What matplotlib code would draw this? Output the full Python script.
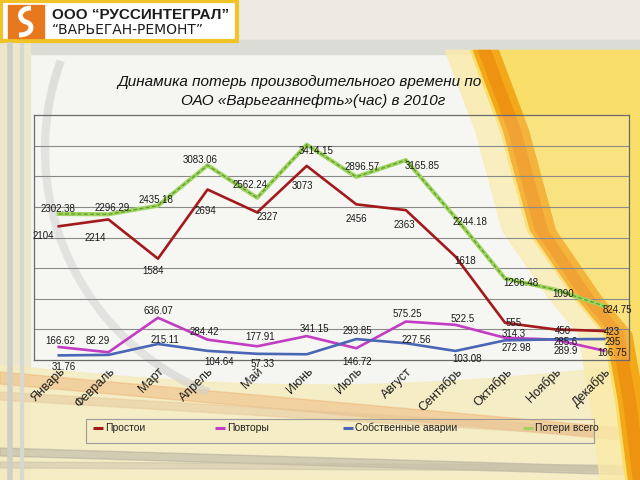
import matplotlib
matplotlib.use('Agg')
import matplotlib.pyplot as plt
import numpy as np
from matplotlib.patches import Rectangle, Arc
from matplotlib.path import Path
from matplotlib.patches import PathPatch

# ---------------- data ----------------
months = ['Январь', 'Февраль', 'Март', 'Апрель', 'Май', 'Июнь', 'Июль',
          'Август', 'Сентябрь', 'Октябрь', 'Ноябрь', 'Декабрь']
prostoi = [2104, 2214, 1584, 2694, 2327, 3073, 2456, 2363, 1618, 555, 450, 423]
povtory = [166.62, 82.29, 636.07, 284.42, 177.91, 341.15, 146.72, 575.25,
           522.5, 314.3, 285.6, 106.75]
avarii = [31.76, 40, 215.11, 104.64, 57.33, 50, 293.85, 227.56, 103.08,
          272.98, 289.9, 295]
avarii_labels = ['31.76', None, '215.11', '104.64', '57.33', None, '293.85',
                 '227.56', '103.08', '272.98', '289.9', '295']
poteri = [2302.38, 2296.29, 2435.18, 3083.06, 2562.24, 3414.15, 2896.57,
          3165.85, 2244.18, 1266.48, 1090, 824.75]
series_names = ['Простои', 'Повторы', 'Собственные аварии', 'Потери всего']

title1 = 'Динамика потерь производительного времени по'
title2 = 'ОАО «Варьеганнефть»(час) в 2010г'
logo1 = 'ООО “РУССИНТЕГРАЛ”'
logo2 = '“ВАРЬЕГАН-РЕМОНТ”'

# label offsets in pixels (styling)
off_red = [(-15, -10), (-13, -19), (-5, -12), (-2, -21), (10, -5), (-4, -20),
           (0, -15), (-2, -15), (10, -4), (9, 0), (8, -2), (8, -1)]
off_green = [(-1, 5), (4, 6), (-2, 6), (-7, 5), (-7, 13), (9, -6), (6, 10),
             (16, -6), (15, -4), (16, -5), (9, -5), (13, -4)]
off_purple = [(1, 6), (-11, 11), (0, 7), (-3, 8), (3, 9), (8, 7), (1, -14),
              (1, 8), (7, 6), (9, 4), (11, -2), (8, -2)]
off_blue = [(5, -12), (0, 0), (7, 4), (12, -11), (5, -10), (0, 0), (1, 8),
            (10, 3), (12, -8), (11, -8), (11, -12), (8, -3)]

c_red = '#a3191c'
c_purple = '#c23cc4'
c_blue = '#4a66b4'
c_green = '#9fd45e'
c_green_d = '#5f9a30'

plt.rcParams['font.family'] = ['Liberation Sans', 'DejaVu Sans']

fig = plt.figure(figsize=(6.4, 4.8), dpi=100)

# ---------------- background slide ----------------
bg = fig.add_axes([0, 0, 1, 1])
bg.set_xlim(0, 640)
bg.set_ylim(480, 0)
bg.axis('off')
bg.set_zorder(-5)

bg.add_patch(Rectangle((0, 0), 640, 480, color='#eceae2'))
bg.add_patch(Rectangle((30, 52), 610, 428, color='#f5f5f1'))
bg.add_patch(Rectangle((0, 40), 640, 14, color='#dcdcd6'))
bg.add_patch(Rectangle((0, 40), 30, 440, color='#ebe6cc'))
bg.plot([10, 10], [45, 480], color='#cfcfc8', lw=4)
bg.plot([22, 22], [45, 480], color='#d8d8d2', lw=3)

# bottom washes / swooshes
xs = np.linspace(0, 640, 200)
bg.fill_between(xs, 365 + 20 * np.sin(xs / 640 * np.pi), 480, color='#f6ecbc', alpha=0.8)
bg.fill_between(xs, 372 + 0.09 * xs, 384 + 0.09 * xs, color='#eeb070', alpha=0.45)
bg.fill_between(xs, 392 + 0.06 * xs, 400 + 0.06 * xs, color='#e6c79a', alpha=0.5)
bg.fill_between(xs, 448 + 0.03 * xs, 456 + 0.03 * xs, color='#a9a49a', alpha=0.45)
bg.fill_between(xs, 462 + 0.005 * xs, 468 + 0.005 * xs, color='#c8c0a8', alpha=0.5)

# right yellow swoosh
ys = np.linspace(50, 480, 300)
xl = np.interp(ys, [50, 130, 230, 297, 333, 400, 480], [470, 500, 527, 573, 603, 615, 625])
bg.fill_betweenx(ys, xl - 25, xl, color='#fbeaa8', alpha=0.8)
bg.fill_betweenx(ys, xl, 640, color='#f9df6a')
bg.fill_betweenx(ys, xl + 3, xl + 28, color='#f3a81a')
bg.fill_betweenx(ys, xl + 8, xl + 20, color='#ee9212')

# decorative ring
bg.add_patch(Arc((306, 150), 522, 522, theta1=112, theta2=200, color='#d0d0ce', lw=6, alpha=0.6))

# logo box
bg.add_patch(Rectangle((1, 1), 236, 40, facecolor='white', edgecolor='#f0c426', lw=3))
bg.add_patch(Rectangle((8, 5), 36, 33, color='#e8781e'))
verts1 = [(31, 8), (18, 8), (18, 20), (26, 22), (34, 24), (33, 35), (19, 35)]
codes = [Path.MOVETO, Path.CURVE4, Path.CURVE4, Path.CURVE4, Path.CURVE4, Path.CURVE4, Path.CURVE4]
bg.add_patch(PathPatch(Path(verts1, codes), facecolor='none', edgecolor='white', lw=3.5))
bg.text(52, 15, logo1, fontsize=11, fontweight='bold', color='#1c1c1c', va='center', ha='left')
bg.text(52, 30, logo2, fontsize=10, color='#1c1c1c', va='center', ha='left',
        family=['DejaVu Sans'])

# title
bg.text(300, 82, title1, fontsize=11, style='italic', color='#111', ha='center', va='center')
bg.text(313, 101, title2, fontsize=11, style='italic', color='#111', ha='center', va='center')

# legend (drawn manually)
bg.add_patch(Rectangle((86, 419), 508, 24, facecolor='none', edgecolor='#9a9a9a', lw=0.8))
leg_x = [93, 215, 343, 523]
leg_c = [c_red, c_purple, c_blue, c_green]
for lx, lc, name in zip(leg_x, leg_c, series_names):
    bg.plot([lx, lx + 10], [428, 428], color=lc, lw=2.2, solid_capstyle='butt')
    bg.text(lx + 12, 428, name, fontsize=7.5, color='#222', va='center', ha='left')

# ---------------- main chart ----------------
ax = fig.add_axes([34 / 640, 120 / 480, 595 / 640, 245 / 480])
ax.set_facecolor((1, 1, 1, 0.15))
x = np.arange(len(months))
ymin, ymax = -42, 3890
ax.set_ylim(ymin, ymax)
ax.set_xlim(-0.5, len(months) - 0.5)
ax.set_yticks(np.linspace(ymin, ymax, 9)[1:-1])
ax.yaxis.grid(True, color='#8a8a8a', lw=0.8)
ax.tick_params(axis='y', length=0, labelleft=False)
ax.tick_params(axis='x', length=0, pad=4)
for sp in ax.spines.values():
    sp.set_color('#6a6a6a')
    sp.set_linewidth(0.9)

ax.set_xticks(x)
ax.set_xticklabels(months, rotation=45, ha='right', rotation_mode='anchor',
                   fontsize=9, color='#1e1e1e')

ax.plot(x, poteri, color=c_green, lw=3.0, zorder=3)
ax.plot(x, poteri, color=c_green_d, lw=0.9, ls=(0, (3, 2)), zorder=3)
ax.plot(x, prostoi, color=c_red, lw=1.9, zorder=4)
ax.plot(x, povtory, color=c_purple, lw=1.9, zorder=4)
ax.plot(x, avarii, color=c_blue, lw=1.9, zorder=4)


def fmt(v):
    if float(v).is_integer():
        return str(int(v))
    return str(v)


def labels(vals, offs, texts=None):
    for i, (v, o) in enumerate(zip(vals, offs)):
        t = fmt(v) if texts is None else texts[i]
        if t is None:
            continue
        ax.annotate(t, (x[i], v), xytext=o, textcoords='offset pixels',
                    ha='center', va='center', fontsize=7, color='#1a1a1a',
                    zorder=6, annotation_clip=False)


labels(prostoi, off_red)
labels(poteri, off_green)
labels(povtory, off_purple)
labels(avarii, off_blue, avarii_labels)

fig.savefig('out.png', dpi=100)
